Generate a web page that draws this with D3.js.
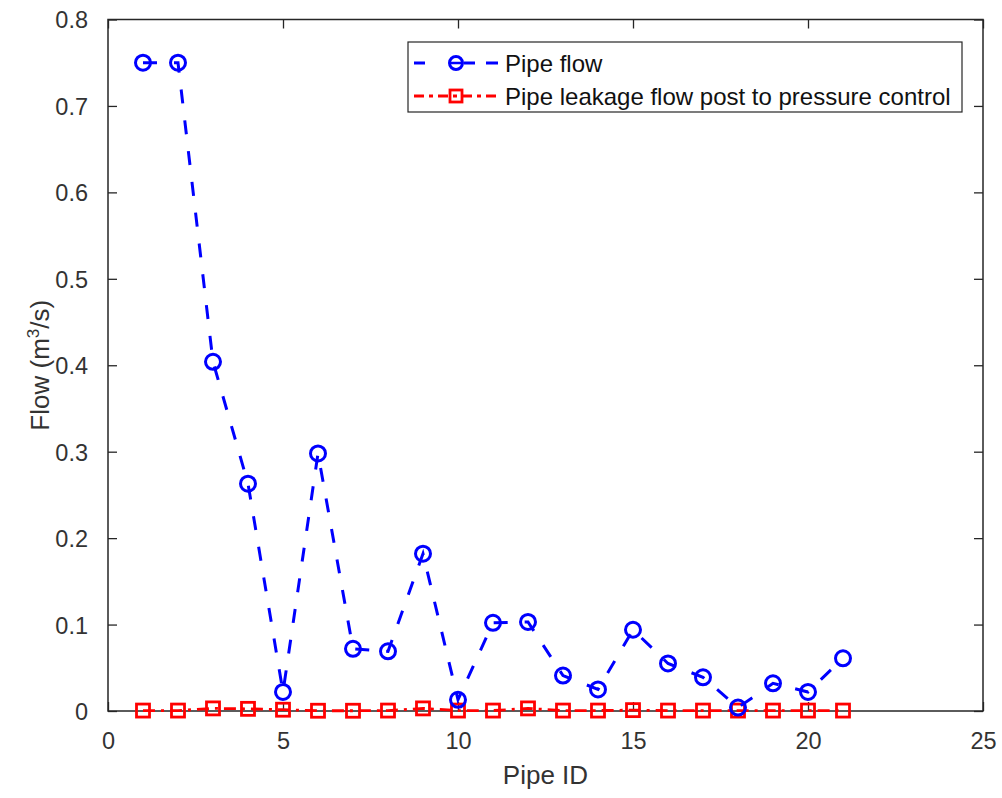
<!DOCTYPE html>
<html>
<head>
<meta charset="utf-8">
<script src="https://cdn.jsdelivr.net/npm/d3@7"></script>
<style>
  html, body { margin: 0; padding: 0; background: #fff; }
  svg { display: block; font-family: "Liberation Sans", Arial, Helvetica, sans-serif; }
</style>
</head>
<body>
<svg id="chart" width="1002" height="798"></svg>
<script>
// ---- data ----
const pipeIds = [1, 2, 3, 4, 5, 6, 7, 8, 9, 10, 11, 12, 13, 14, 15, 16, 17, 18, 19, 20, 21];
const pipeFlow = [0.750, 0.750, 0.404, 0.263, 0.022, 0.298, 0.072, 0.069, 0.182, 0.013, 0.102, 0.103, 0.041, 0.025, 0.094, 0.055, 0.039, 0.004, 0.032, 0.022, 0.061];
const leakageFlow = [0.0005, 0.0005, 0.003, 0.0025, 0.0015, 0.0003, 0.0003, 0.0005, 0.003, 0.0005, 0.0005, 0.003, 0.0005, 0.0005, 0.001, 0.0005, 0.0005, 0.0005, 0.0005, 0.0005, 0.0005];
const xTicks = [0, 5, 10, 15, 20, 25];
const yTicks = [0, 0.1, 0.2, 0.3, 0.4, 0.5, 0.6, 0.7, 0.8];
const seriesNames = ["Pipe flow", "Pipe leakage flow post to pressure control"];
const xLabel = "Pipe ID";

// ---- layout ----
const L = 108, R = 983, T = 19.5, B = 711;
const axisColor = "#262626";
const svg = d3.select("#chart");

const x = d3.scaleLinear().domain([0, 25]).range([L, R]);
const y = d3.scaleLinear().domain([0, 0.8]).range([B, T]);

// axes (MATLAB-style box with inward ticks)
const tickLen = 9;
const fontTick = 23.5;

const gBottom = svg.append("g").attr("transform", `translate(0,${B})`)
  .call(d3.axisBottom(x).tickValues(xTicks).tickSizeInner(-tickLen).tickSizeOuter(0).tickPadding(tickLen + 12).tickFormat(d3.format("d")));
const gTop = svg.append("g").attr("transform", `translate(0,${T})`)
  .call(d3.axisTop(x).tickValues(xTicks).tickSizeInner(-tickLen).tickSizeOuter(0).tickFormat(""));
const gLeft = svg.append("g").attr("transform", `translate(${L},0)`)
  .call(d3.axisLeft(y).tickValues(yTicks).tickSizeInner(-tickLen).tickSizeOuter(0).tickPadding(tickLen + 11).tickFormat(d => d === 0 ? "0" : d3.format(".1f")(d)));
const gRight = svg.append("g").attr("transform", `translate(${R},0)`)
  .call(d3.axisRight(y).tickValues(yTicks).tickSizeInner(-tickLen).tickSizeOuter(0).tickFormat(""));

[gBottom, gTop, gLeft, gRight].forEach(g => {
  g.select(".domain").remove();
  g.selectAll(".tick line").attr("stroke", axisColor).attr("stroke-width", 1.3);
  g.selectAll(".tick text").attr("fill", "#333").attr("font-size", fontTick)
    .attr("font-family", "Liberation Sans, Arial, sans-serif");
});
gLeft.selectAll(".tick text").attr("dy", "0.36em");

svg.append("rect").attr("x", L).attr("y", T).attr("width", R - L).attr("height", B - T)
  .attr("fill", "none").attr("stroke", axisColor).attr("stroke-width", 1.5);

// axis labels
svg.append("text").attr("x", (L + R) / 2).attr("y", 784).attr("text-anchor", "middle")
  .attr("font-size", 26).attr("fill", "#333").text(xLabel);

const yl = svg.append("text").attr("transform", `translate(49,${(T + B) / 2}) rotate(-90)`)
  .attr("text-anchor", "middle").attr("font-size", 26).attr("fill", "#333");
yl.append("tspan").text("Flow (m");
yl.append("tspan").attr("font-size", 17).attr("dy", -10).text("3");
yl.append("tspan").attr("dy", 10).text("/s)");

// series
const blue = "#0000ff", red = "#ff0000";
const line = d3.line().x((d, i) => x(pipeIds[i])).y(d => y(d));

svg.append("path").datum(leakageFlow).attr("d", line).attr("fill", "none")
  .attr("stroke", red).attr("stroke-width", 2.8).attr("stroke-dasharray", "12,6,3,6");
svg.append("g").selectAll("rect").data(leakageFlow).join("rect")
  .attr("x", (d, i) => x(pipeIds[i]) - 6.5).attr("y", d => y(d) - 6.5)
  .attr("width", 13).attr("height", 13)
  .attr("fill", "none").attr("stroke", red).attr("stroke-width", 2.8);

svg.append("path").datum(pipeFlow).attr("d", line).attr("fill", "none")
  .attr("stroke", blue).attr("stroke-width", 3).attr("stroke-dasharray", "14,17");
svg.append("g").selectAll("circle").data(pipeFlow).join("circle")
  .attr("cx", (d, i) => x(pipeIds[i])).attr("cy", d => y(d)).attr("r", 7.5)
  .attr("fill", "none").attr("stroke", blue).attr("stroke-width", 3);

// legend
const lg = svg.append("g");
lg.append("rect").attr("x", 408).attr("y", 42).attr("width", 554).attr("height", 70)
  .attr("fill", "#fff").attr("stroke", axisColor).attr("stroke-width", 1.2);
const rows = [63, 96];
// row 1
lg.append("line").attr("x1", 414).attr("x2", 498).attr("y1", rows[0]).attr("y2", rows[0])
  .attr("stroke", blue).attr("stroke-width", 3).attr("stroke-dasharray", "11,23,0,16,11");
lg.append("circle").attr("cx", 456).attr("cy", rows[0]).attr("r", 6.5)
  .attr("fill", "none").attr("stroke", blue).attr("stroke-width", 3);
lg.append("line").attr("x1", 450).attr("x2", 462).attr("y1", rows[0]).attr("y2", rows[0])
  .attr("stroke", blue).attr("stroke-width", 2.5);
// row 2
lg.append("line").attr("x1", 414).attr("x2", 498).attr("y1", rows[1]).attr("y2", rows[1])
  .attr("stroke", red).attr("stroke-width", 2.8).attr("stroke-dasharray", "10,5,4,5");
lg.append("rect").attr("x", 450).attr("y", rows[1] - 6).attr("width", 12).attr("height", 12)
  .attr("fill", "none").attr("stroke", red).attr("stroke-width", 2.8);
seriesNames.forEach((name, i) => {
  lg.append("text").attr("x", 505).attr("y", rows[i]).attr("dy", "0.36em")
    .attr("font-size", 24).attr("fill", "#111").text(name);
});
</script>
</body>
</html>
